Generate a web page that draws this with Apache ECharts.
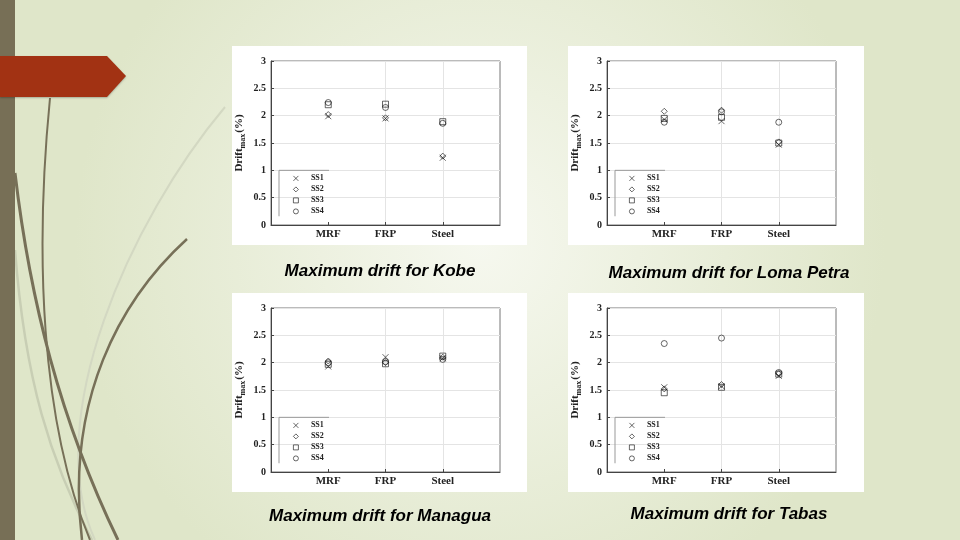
<!DOCTYPE html>
<html>
<head>
<meta charset="utf-8">
<script src="https://cdn.jsdelivr.net/npm/echarts@6/dist/echarts.min.js"></script>
<style>
html,body{margin:0;padding:0;width:960px;height:540px;overflow:hidden;background:#e9eed9;}
#chart{width:960px;height:540px;}
</style>
</head>
<body>
<div id="chart"></div>
<script>
// ---- data ----
const categories = ['MRF', 'FRP', 'Steel'];
const seriesNames = ['SS1', 'SS2', 'SS3', 'SS4'];
const yTicks = [0, 0.5, 1, 1.5, 2, 2.5, 3];
const panelTitles = ['Maximum drift for Kobe', 'Maximum drift for Loma Petra', 'Maximum drift for Managua', 'Maximum drift for Tabas'];
// rows: SS1..SS4, columns: MRF, FRP, Steel
const kobe      = [[1.99, 1.95, 1.23], [2.02, 1.96, 1.26], [2.20, 2.21, 1.89], [2.24, 2.15, 1.86]];
const lomaPetra = [[1.93, 1.90, 1.47], [2.08, 2.10, 1.52], [1.95, 1.97, 1.50], [1.88, 2.07, 1.88]];
const managua   = [[1.93, 2.10, 2.08], [2.03, 2.00, 2.10], [1.97, 1.98, 2.12], [2.00, 2.02, 2.06]];
const tabas     = [[1.55, 1.57, 1.76], [1.52, 1.60, 1.80], [1.45, 1.55, 1.79], [2.35, 2.45, 1.82]];
const quakes = [kobe, lomaPetra, managua, tabas];

// ---- layout ----
const panels = [
  {x: 232, y: 46, w: 295, h: 199},
  {x: 568, y: 46, w: 296, h: 199},
  {x: 232, y: 293, w: 295, h: 199},
  {x: 568, y: 293, w: 296, h: 199}
];
const gridOff = {left: 39, top: 15, width: 229, height: 164};
const titlePos = [[380, 271], [729, 273], [380, 516], [729, 514]];

const symbols = [
  'path://M0,0L10,10M10,0L0,10',
  'path://M5,0L10,5L5,10L0,5Z',
  'path://M0,0L10,0L10,10L0,10Z',
  'circle'
];
const markStyle = {color: 'rgba(0,0,0,0)', borderColor: '#111', borderWidth: 0.8};

const xCats = [''].concat(categories).concat(['']);
const serif = 'Liberation Serif, Times New Roman, serif';

const grids = [], xAxes = [], yAxes = [], series = [], legends = [], graphics = [];

// background
graphics.push({
  type: 'rect', z: -100, shape: {x: 0, y: 0, width: 960, height: 540},
  style: {fill: {type: 'radial', x: 0.5, y: 0.45, r: 0.75,
    colorStops: [{offset: 0, color: '#f6f8ef'}, {offset: 1, color: '#dfe6c9'}]}}
});
// decorative grass curves
const curves = [
  {p: [15, 250, 25, 380, 50, 460, 92, 540], c: '#c8ceb4', w: 2.5},
  {p: [225, 107, 130, 220, 40, 420, 95, 540], c: '#d3d8c2', w: 2},
  {p: [50, 98, 35, 250, 40, 420, 90, 540], c: '#777058', w: 2},
  {p: [15, 173, 30, 300, 60, 420, 118, 540], c: '#777058', w: 3},
  {p: [187, 239, 120, 300, 65, 400, 82, 540], c: '#777058', w: 2.5}
];
curves.forEach(cv => {
  graphics.push({
    type: 'bezierCurve', z: -90,
    shape: {x1: cv.p[0], y1: cv.p[1], cpx1: cv.p[2], cpy1: cv.p[3], cpx2: cv.p[4], cpy2: cv.p[5], x2: cv.p[6], y2: cv.p[7]},
    style: {stroke: cv.c, lineWidth: cv.w, fill: null}
  });
});
// left stripe
graphics.push({type: 'rect', z: -80, shape: {x: 0, y: 0, width: 15, height: 540}, style: {fill: '#776f56'}});
// red arrow
graphics.push({type: 'polygon', z: -70, shape: {points: [[0, 56], [107, 56], [126, 76], [107, 97], [0, 97]]}, style: {fill: '#a23213', shadowColor: 'rgba(0,0,0,0.25)', shadowBlur: 2, shadowOffsetY: 1}});

panels.forEach((pn, p) => {
  const gl = pn.x + gridOff.left, gt = pn.y + gridOff.top;
  // white panel
  graphics.push({type: 'rect', z: -60, shape: {x: pn.x, y: pn.y, width: pn.w, height: pn.h}, style: {fill: '#ffffff'}});
  // title
  graphics.push({type: 'text', z: 10, x: titlePos[p][0], y: titlePos[p][1],
    style: {text: panelTitles[p], font: 'italic bold 17px "Liberation Sans", Arial, sans-serif', fill: '#000', align: 'center', verticalAlign: 'middle'}});
  // legend box (top + left edges)
  const lbTop = gt + (3 - 1) / 3 * gridOff.height;
  const lbBot = gt + (3 - 0.16) / 3 * gridOff.height;
  graphics.push({type: 'polyline', z: 5, shape: {points: [[gl + 58, lbTop], [gl + 8, lbTop], [gl + 8, lbBot]]}, style: {stroke: '#999', lineWidth: 1, fill: null}});

  grids.push({left: gl, top: gt, width: gridOff.width, height: gridOff.height, show: true, borderColor: '#777', borderWidth: 1, backgroundColor: 'transparent'});
  xAxes.push({
    type: 'category', gridIndex: p, data: xCats, boundaryGap: false,
    axisLine: {lineStyle: {color: '#444', width: 1}},
    axisTick: {inside: true, length: 3, lineStyle: {color: '#444'}, interval: (i, v) => v !== ''},
    axisLabel: {interval: 0, color: '#222', fontFamily: serif, fontWeight: 'bold', fontSize: 11, margin: 4},
    splitLine: {show: true, lineStyle: {color: '#e4e4e4', width: 1}, interval: (i, v) => v === 'FRP' || v === 'Steel'}
  });
  yAxes.push({
    type: 'value', gridIndex: p, min: yTicks[0], max: yTicks[yTicks.length - 1], interval: 0.5,
    axisLine: {show: true, lineStyle: {color: '#444', width: 1}},
    axisTick: {show: true, inside: true, length: 3, lineStyle: {color: '#444'}},
    axisLabel: {color: '#222', fontFamily: serif, fontWeight: 'bold', fontSize: 10, margin: 5, formatter: v => String(v)},
    splitLine: {show: true, lineStyle: {color: '#e4e4e4', width: 1}},
    name: '{a|Drift}{s|max}{a|(%)}', nameLocation: 'middle', nameGap: 24, nameRotate: 90,
    nameTextStyle: {rich: {
      a: {fontFamily: serif, fontWeight: 'bold', fontSize: 11, color: '#222'},
      s: {fontFamily: serif, fontWeight: 'bold', fontSize: 8, color: '#222', padding: [7, 1, 0, 0]}
    }}
  });
  legends.push({
    left: gl + 22, top: gt + (3 - 0.88) / 3 * gridOff.height - 3,
    orient: 'vertical', itemWidth: 20, itemHeight: 5, itemGap: 2, padding: 0,
    textStyle: {fontFamily: serif, fontWeight: 'bold', fontSize: 8, lineHeight: 9, color: '#222'}, selectedMode: false,
    data: seriesNames.map((n, s) => ({name: n, icon: symbols[s], itemStyle: markStyle}))
  });
  seriesNames.forEach((n, s) => {
    series.push({
      type: 'scatter', name: n, xAxisIndex: p, yAxisIndex: p,
      symbol: symbols[s], symbolSize: 6, itemStyle: markStyle, silent: true,
      data: categories.map((c, i) => [c, quakes[p][s][i]])
    });
  });
});

const chart = echarts.init(document.getElementById('chart'), null, {renderer: 'canvas'});
chart.setOption({
  animation: false,
  grid: grids, xAxis: xAxes, yAxis: yAxes, legend: legends, series: series,
  graphic: {elements: graphics}
});
</script>
</body>
</html>
